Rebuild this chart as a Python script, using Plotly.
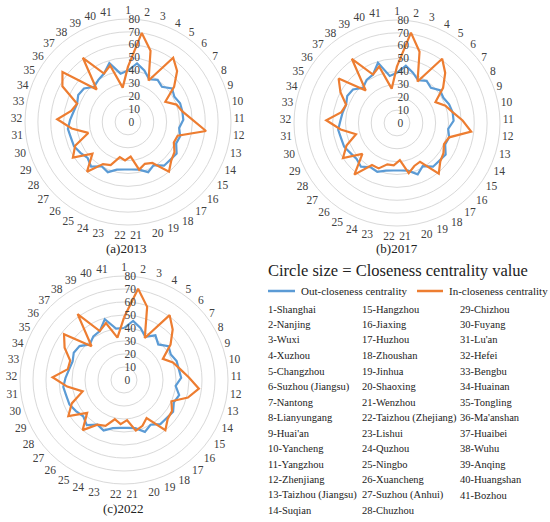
import plotly.graph_objects as go

# category labels around each radar (city index)
cats = [str(i) for i in range(1, 42)]

cities = ["Shanghai", "Nanjing", "Wuxi", "Xuzhou", "Changzhou", "Suzhou (Jiangsu)",
          "Nantong", "Lianyungang", "Huai'an", "Yancheng", "Yangzhou", "Zhenjiang",
          "Taizhou (Jiangsu)", "Suqian", "Hangzhou", "Jiaxing", "Huzhou", "Zhoushan",
          "Jinhua", "Shaoxing", "Wenzhou", "Taizhou (Zhejiang)", "Lishui", "Quzhou",
          "Ningbo", "Xuancheng", "Suzhou (Anhui)", "Chuzhou", "Chizhou", "Fuyang",
          "Lu'an", "Hefei", "Bengbu", "Huainan", "Tongling", "Ma'anshan", "Huaibei",
          "Wuhu", "Anqing", "Huangshan", "Bozhou"]

# out-closeness centrality (blue)
out_2013 = [40, 46, 42, 37, 40, 38, 43, 41, 43, 43, 43, 40, 42, 41, 45, 44, 44, 39, 42, 38, 37,
            37, 38, 42, 40, 45, 42, 44, 46, 46, 47, 45, 43, 42, 44, 43, 38, 40, 42, 48, 38]
out_2017 = [39, 45, 41, 37, 40, 38, 42, 41, 43, 44, 44, 40, 42, 41, 45, 44, 44, 39, 43, 38, 37,
            37, 38, 41, 40, 44, 42, 43, 45, 45, 46, 44, 43, 42, 44, 43, 38, 41, 42, 49, 37]
out_2022 = [40, 46, 42, 37, 42, 38, 43, 41, 43, 43, 44, 40, 44, 42, 45, 44, 44, 40, 43, 38, 37,
            37, 38, 42, 40, 45, 42, 44, 46, 46, 47, 45, 43, 42, 44, 43, 38, 41, 42, 49, 40]

# in-closeness centrality (orange)
in_2013 = [43, 70, 58, 36, 61, 55, 45, 33, 40, 43, 50, 61, 40, 39, 43, 45, 50, 37, 35, 38, 27,
           30, 28, 36, 38, 50, 37, 51, 45, 32, 44, 55, 45, 42, 58, 64, 35, 61, 42, 46, 27]
in_2017 = [44, 71, 58, 36, 61, 54, 45, 34, 40, 44, 51, 58, 42, 40, 43, 45, 51, 35, 36, 40, 29,
           33, 33, 38, 38, 52, 36, 50, 43, 33, 44, 55, 44, 42, 50, 57, 35, 61, 42, 46, 27]
in_2022 = [48, 71, 59, 36, 61, 54, 45, 34, 40, 44, 50, 58, 51, 40, 44, 45, 50, 34, 38, 40, 31,
           34, 31, 38, 40, 50, 38, 51, 44, 33, 44, 55, 44, 44, 52, 58, 36, 62, 42, 46, 33]

radial_ticks = list(range(0, 81, 10))

BLUE = "#5B9BD5"
ORANGE = "#ED7D31"
SERIF = '"Liberation Serif", "Times New Roman", serif'
W, H = 550, 522

fig = go.Figure()

panels = [("polar", out_2013, in_2013), ("polar2", out_2017, in_2017), ("polar3", out_2022, in_2022)]
for key, out_v, in_v in panels:
    # repeat first point so the outline closes
    fig.add_trace(go.Scatterpolar(r=out_v + out_v[:1], theta=cats + cats[:1], mode="lines",
                                  line=dict(color=BLUE, width=2.2), subplot=key,
                                  name="Out-closeness centrality", showlegend=False))
    fig.add_trace(go.Scatterpolar(r=in_v + in_v[:1], theta=cats + cats[:1], mode="lines",
                                  line=dict(color=ORANGE, width=2.2), subplot=key,
                                  name="In-closeness centrality", showlegend=False))


def polar_box(cx, cy, rad):
    # pixel centre / radius -> paper domain
    return dict(x=[(cx - rad) / W, (cx + rad) / W],
                y=[1 - (cy + rad) / H, 1 - (cy - rad) / H])


def polar_layout(cx, cy, rad):
    return dict(
        domain=polar_box(cx, cy, rad),
        bgcolor="white",
        radialaxis=dict(range=[0, 80], tickvals=radial_ticks, angle=90, tickangle=90,
                        side="clockwise", showline=False, ticks="",
                        gridcolor="#d9d9d9", gridwidth=1,
                        tickfont=dict(family=SERIF, size=11.5, color="#404040")),
        angularaxis=dict(rotation=90, direction="clockwise", showgrid=False, showline=True,
                         linecolor="#d9d9d9", linewidth=1, ticks="",
                         tickfont=dict(family=SERIF, size=11.5, color="#404040")),
    )


fig.update_layout(
    width=W, height=H,
    margin=dict(l=0, r=0, t=0, b=0),
    paper_bgcolor="white",
    showlegend=False,
    polar=polar_layout(128, 122, 103),
    polar2=polar_layout(397, 123, 103),
    polar3=polar_layout(124, 380, 104),
)

annotations = []


def add_text(txt, x, y, size, anchor="left"):
    annotations.append(dict(text=txt, x=x / W, y=1 - y / H, xref="paper", yref="paper",
                            xanchor=anchor, yanchor="middle", showarrow=False,
                            font=dict(family=SERIF, size=size, color="#222222")))


add_text("(a)2013", 126, 248, 13, "center")
add_text("(b)2017", 397, 248, 13, "center")
add_text("(c)2022", 123, 508, 13, "center")

add_text("Circle size = Closeness centrality value", 266, 270, 16.5)
add_text("Out-closeness centrality", 299, 291, 11)
add_text("In-closeness centrality", 447, 291, 11)

col_x = [266, 360, 458]
for i, name in enumerate(cities):
    col, row = divmod(i, 14)
    add_text(f"{i + 1}-{name}", col_x[col], 309 + row * 15.5, 10.5)

fig.update_layout(annotations=annotations)

# legend swatches
for x0, x1, c in [(268, 295, BLUE), (417, 443, ORANGE)]:
    fig.add_shape(type="line", xref="paper", yref="paper", x0=x0 / W, x1=x1 / W,
                  y0=1 - 291 / H, y1=1 - 291 / H, line=dict(color=c, width=2.5))

# drop the default 8px page margin so the figure fills the window exactly
fig.write_html("out.html", config={"displayModeBar": False},
               post_script="document.body.style.margin='0px';")
